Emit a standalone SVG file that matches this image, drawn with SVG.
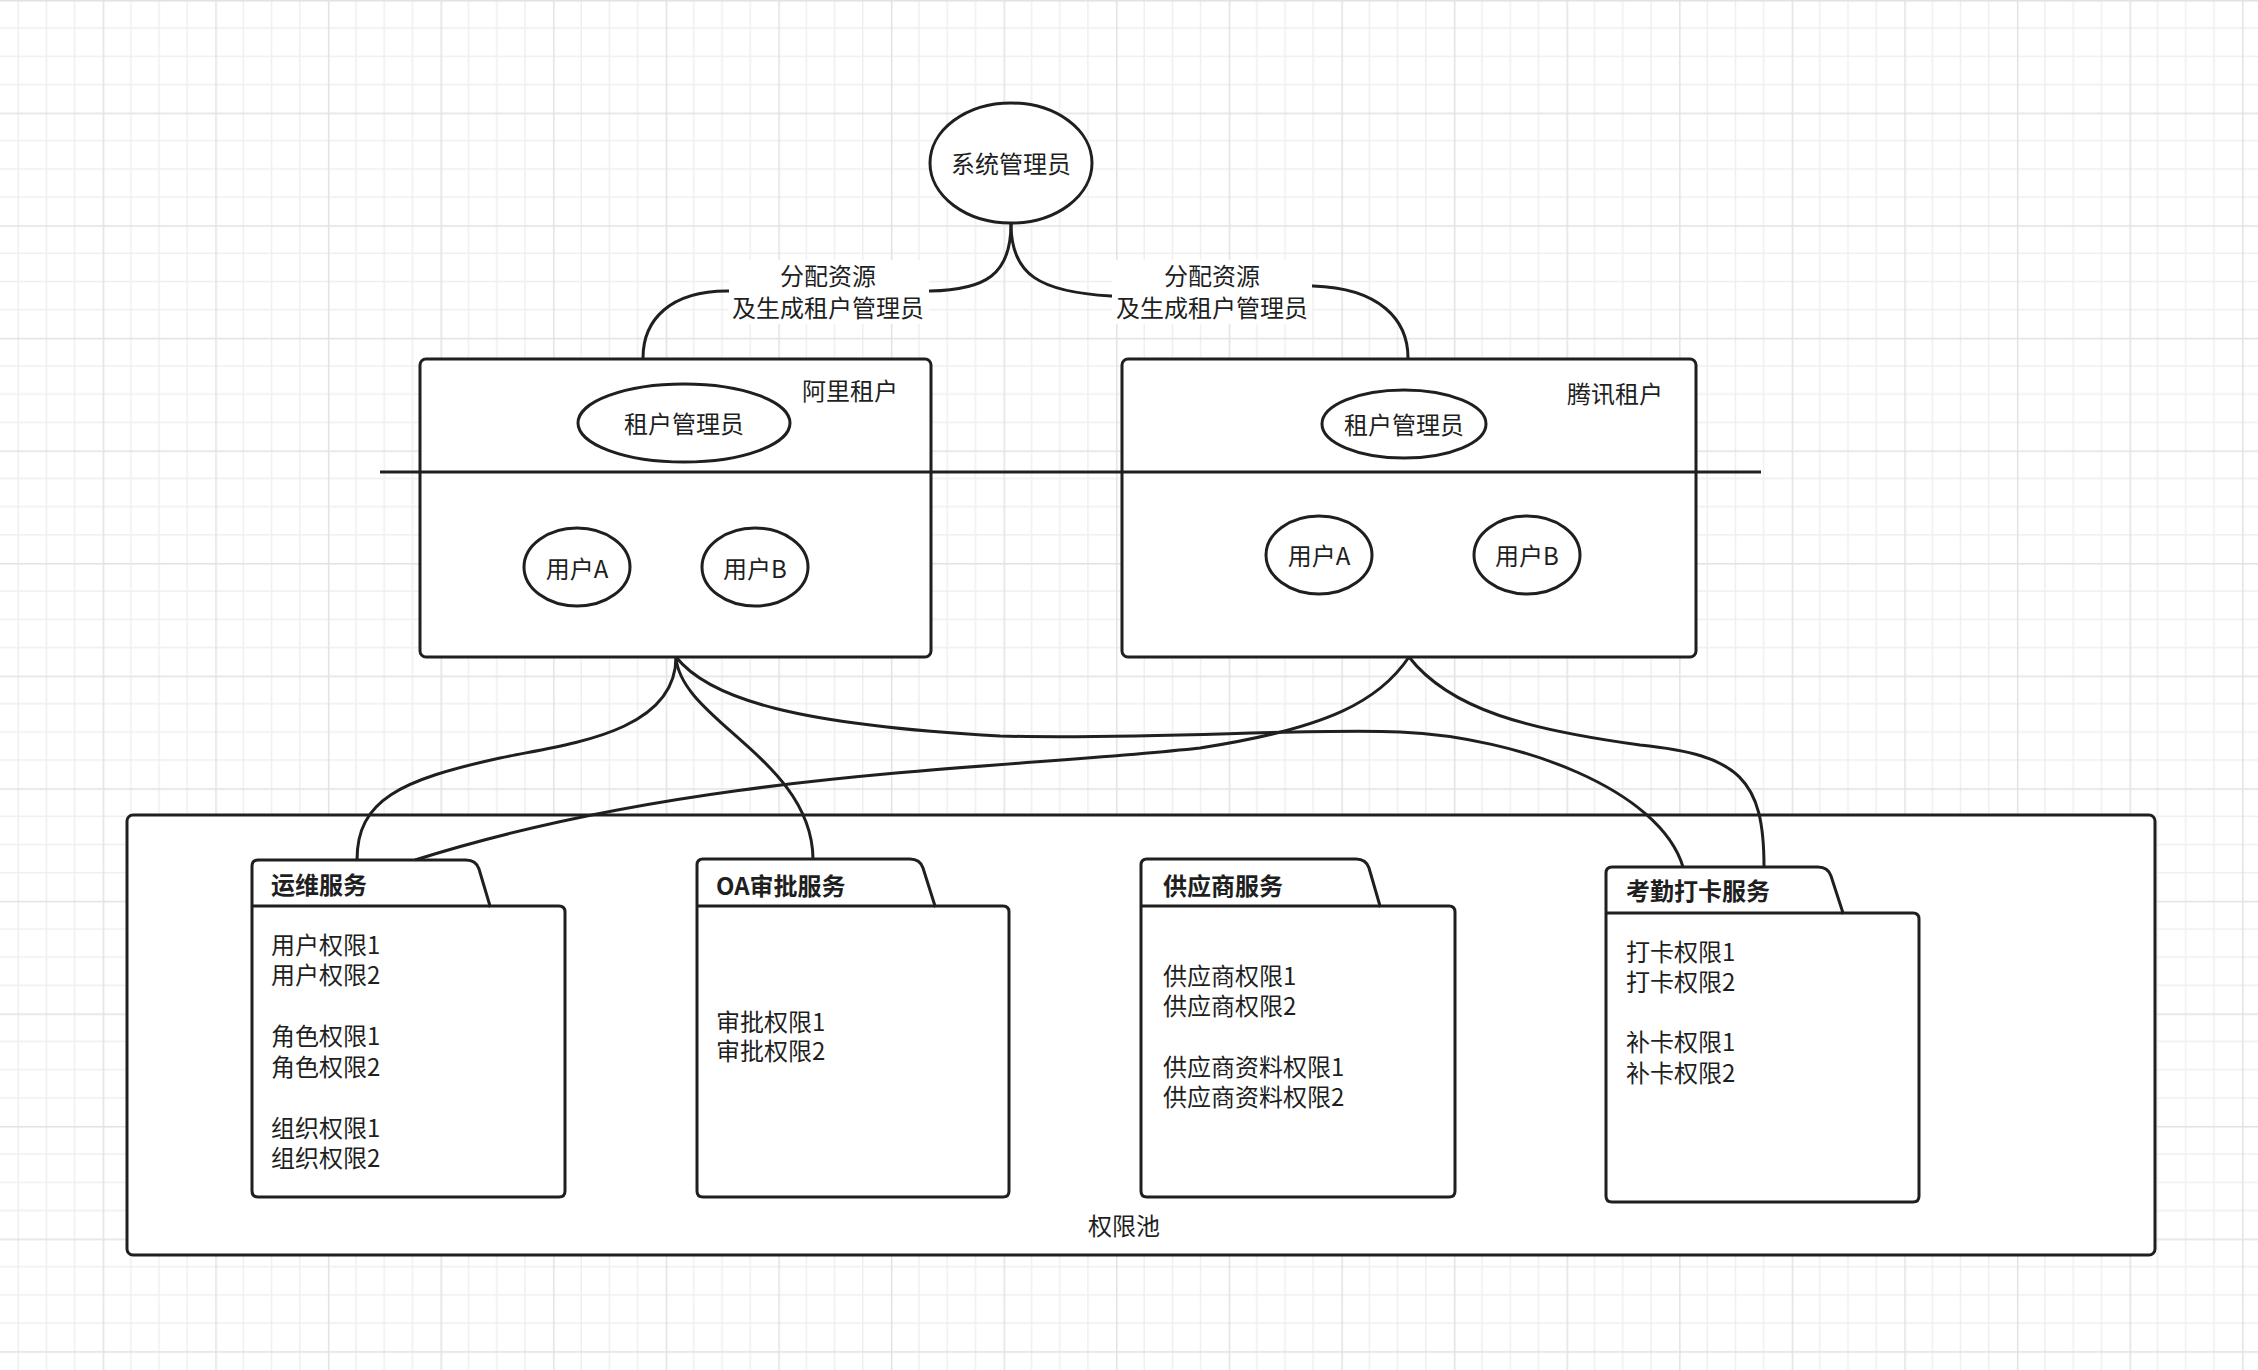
<svg xmlns="http://www.w3.org/2000/svg" width="2258" height="1370" viewBox="0 0 2258 1370">
<defs>
<pattern id="grid" patternUnits="userSpaceOnUse" x="102.7" y="0" width="112.6" height="112.6">
<path d="M28.15,0V112.6M56.3,0V112.6M84.45,0V112.6M0,28.15H112.6M0,56.3H112.6M0,84.45H112.6" stroke="#efefef" stroke-width="1.5" fill="none"/>
<path d="M0.75,0V112.6M0,0.75H112.6" stroke="#e2e2e2" stroke-width="1.5" fill="none"/>
</pattern>
<style>
.s{fill:#fff;stroke:#1f1f1f;stroke-width:3}
.c{fill:none;stroke:#1f1f1f;stroke-width:3}
.t{font-family:"Noto Sans CJK SC","Noto Sans",sans-serif;font-size:24px;fill:#1f1f1f;dominant-baseline:central}
.m{text-anchor:middle}
.b{font-weight:bold}
</style>
</defs>
<rect width="2258" height="1370" fill="#fff"/>
<rect width="2258" height="1370" fill="url(#grid)"/>

<g id="sysadmin">
<ellipse class="s" cx="1011" cy="163" rx="81" ry="60"/>
<text class="t m" x="1011" y="162">系统管理员</text>
</g>

<g id="tenant-ali">
<rect class="s" x="420" y="359" width="511" height="298" rx="6"/>
<text class="t m" x="850" y="389">阿里租户</text>
<ellipse class="s" cx="684" cy="423" rx="106" ry="39"/>
<text class="t m" x="684" y="422">租户管理员</text>
<ellipse class="s" cx="577" cy="567" rx="53" ry="39"/>
<text class="t m" x="577" y="567">用户A</text>
<ellipse class="s" cx="755" cy="567" rx="53" ry="39"/>
<text class="t m" x="755" y="567">用户B</text>
</g>

<g id="tenant-tencent">
<rect class="s" x="1122" y="359" width="574" height="298" rx="6"/>
<text class="t m" x="1615" y="392">腾讯租户</text>
<ellipse class="s" cx="1404" cy="424" rx="82" ry="34"/>
<text class="t m" x="1404" y="423">租户管理员</text>
<ellipse class="s" cx="1319" cy="555" rx="53" ry="39"/>
<text class="t m" x="1319" y="554">用户A</text>
<ellipse class="s" cx="1527" cy="555" rx="53" ry="39"/>
<text class="t m" x="1527" y="554">用户B</text>
</g>

<g id="divider">
<line class="c" x1="380" y1="472" x2="1761" y2="472"/>
</g>

<g id="pool">
<rect class="s" x="127" y="815" width="2028" height="440" rx="6"/>
<text class="t m" x="1124" y="1224">权限池</text>
</g>

<g id="connectors">
<path class="c" d="M1011,224 C1011,275 1040,292 1111,296 C1200,300 1250,284 1313,286 C1380,288 1408,320 1408,358"/>
<path class="c" d="M1011,224 C1011,275 985,290 930,291 C880,292 780,291 727,291 C670,291 643,320 643,358"/>
<rect x="729" y="260" width="200" height="64" fill="#fff"/>
<text class="t m" x="828" y="274">分配资源</text>
<text class="t m" x="828" y="306">及生成租户管理员</text>
<rect x="1112" y="260" width="200" height="64" fill="#fff"/>
<text class="t m" x="1212" y="274">分配资源</text>
<text class="t m" x="1212" y="306">及生成租户管理员</text>
<path class="c" d="M676,657 C676,735 560,745 500,758 C400,780 357,800 357,860"/>
<path class="c" d="M676,657 C680,720 812,760 813,859"/>
<path class="c" d="M676,657 C710,700 800,725 1000,736 C1150,740 1300,728 1400,732 C1520,737 1660,790 1683,867"/>
<path class="c" d="M1409,657 C1380,700 1330,728 1200,748 C1000,770 700,770 415,860"/>
<path class="c" d="M1409,657 C1450,710 1530,730 1640,745 C1740,755 1764,780 1764,867"/>
</g>

<g id="svc-ops">
<path class="s" d="M252,1191 V866 Q252,860 258,860 H466 Q476,860 479,869 L490,906 H559 Q565,906 565,912 V1191 Q565,1197 559,1197 H258 Q252,1197 252,1191 Z"/>
<line class="c" x1="252" y1="906" x2="490" y2="906"/>
<text class="t b" x="271" y="883">运维服务</text>
<text class="t" x="271" y="943">用户权限1</text>
<text class="t" x="271" y="973.5">用户权限2</text>
<text class="t" x="271" y="1034.5">角色权限1</text>
<text class="t" x="271" y="1065">角色权限2</text>
<text class="t" x="271" y="1126">组织权限1</text>
<text class="t" x="271" y="1156.5">组织权限2</text>
</g>

<g id="svc-oa">
<path class="s" d="M697,1191 V865 Q697,859 703,859 H910 Q920,859 923,868 L935,906 H1003 Q1009,906 1009,912 V1191 Q1009,1197 1003,1197 H703 Q697,1197 697,1191 Z"/>
<line class="c" x1="697" y1="906" x2="935" y2="906"/>
<text class="t b" x="716" y="884">OA审批服务</text>
<text class="t" x="716" y="1020">审批权限1</text>
<text class="t" x="716" y="1049">审批权限2</text>
</g>

<g id="svc-supplier">
<path class="s" d="M1141,1191 V865 Q1141,859 1147,859 H1356 Q1366,859 1369,868 L1380,906 H1449 Q1455,906 1455,912 V1191 Q1455,1197 1449,1197 H1147 Q1141,1197 1141,1191 Z"/>
<line class="c" x1="1141" y1="906" x2="1380" y2="906"/>
<text class="t b" x="1163" y="884">供应商服务</text>
<text class="t" x="1163" y="974">供应商权限1</text>
<text class="t" x="1163" y="1004">供应商权限2</text>
<text class="t" x="1163" y="1065">供应商资料权限1</text>
<text class="t" x="1163" y="1095">供应商资料权限2</text>
</g>

<g id="svc-attendance">
<path class="s" d="M1606,1196 V873 Q1606,867 1612,867 H1818 Q1828,867 1831,876 L1843,913 H1913 Q1919,913 1919,919 V1196 Q1919,1202 1913,1202 H1612 Q1606,1202 1606,1196 Z"/>
<line class="c" x1="1606" y1="913" x2="1843" y2="913"/>
<text class="t b" x="1626" y="889">考勤打卡服务</text>
<text class="t" x="1626" y="950">打卡权限1</text>
<text class="t" x="1626" y="980">打卡权限2</text>
<text class="t" x="1626" y="1040">补卡权限1</text>
<text class="t" x="1626" y="1071">补卡权限2</text>
</g>
</svg>
